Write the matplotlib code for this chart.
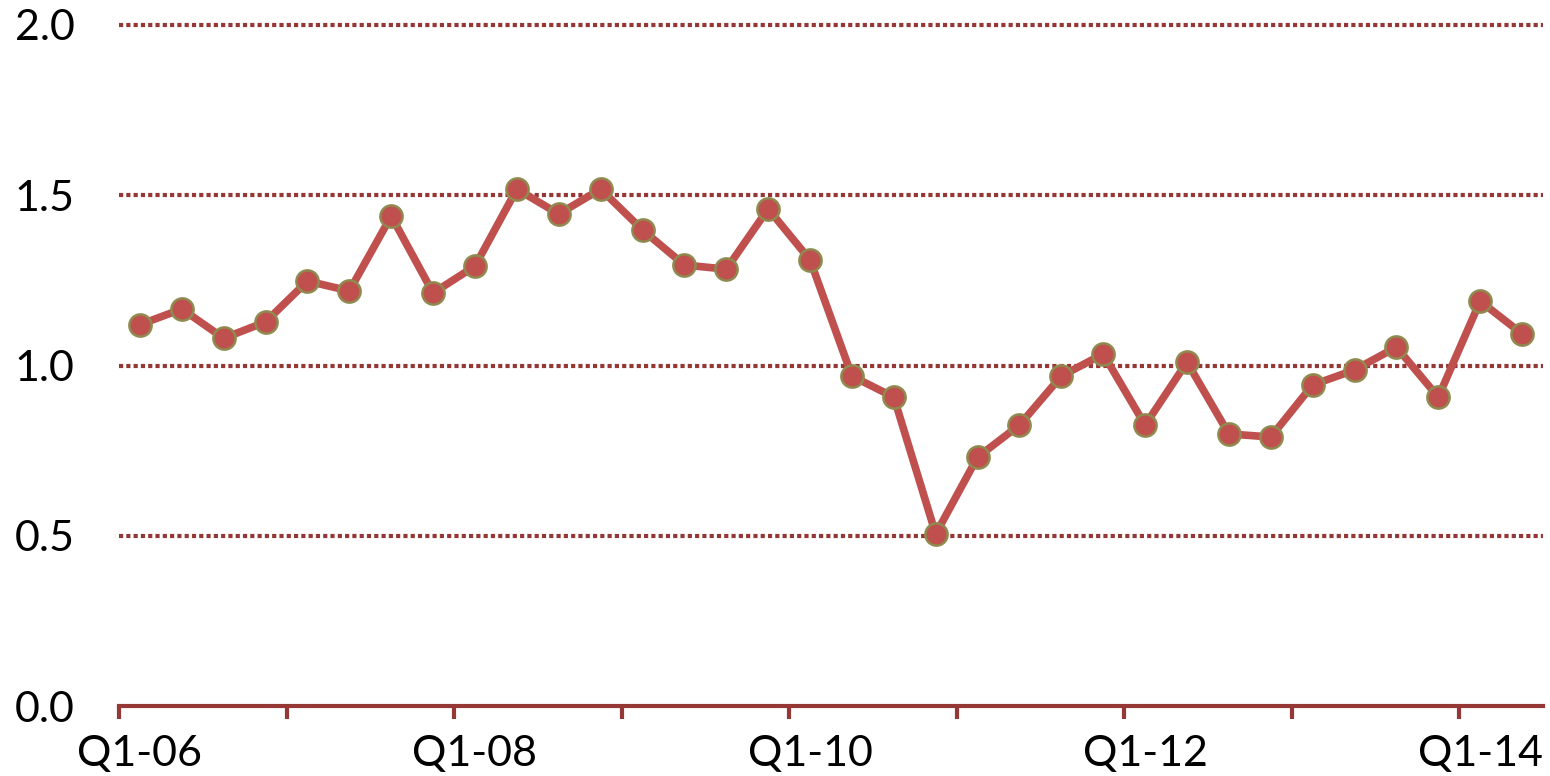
import matplotlib
matplotlib.use("Agg")
import matplotlib.pyplot as plt

# quarterly series, Q1-06 .. Q2-14
quarters = [f"Q{q}-{y:02d}" for y in range(6, 15) for q in range(1, 5)][:34]
values = [1.12, 1.166, 1.08, 1.128, 1.248, 1.219, 1.439, 1.213, 1.292, 1.518,
          1.445, 1.518, 1.398, 1.295, 1.283, 1.46, 1.31, 0.969, 0.907, 0.505,
          0.731, 0.825, 0.969, 1.034, 0.825, 1.01, 0.799, 0.79, 0.943, 0.987,
          1.054, 0.907, 1.189, 1.093]
yticks = [0.0, 0.5, 1.0, 1.5, 2.0]

LINE = "#C0504D"
EDGE = "#8F8A4F"
DARK = "#953735"

plt.rcParams["font.family"] = ["Lato", "DejaVu Sans"]

fig = plt.figure(figsize=(15.5, 7.76), dpi=100)
ax = fig.add_axes([119 / 1550, 1 - 706 / 776, (1543 - 119) / 1550, 681 / 776])

x = list(range(len(values)))
ax.plot(x, values, color=LINE, lw=5.5, marker="o", ms=16, mfc=LINE,
        mec=EDGE, mew=1.8, zorder=3, clip_on=False)

ax.set_xlim(-0.5, len(values) - 0.5)
ax.set_ylim(0, 2.0)
ax.set_yticks(yticks)
ax.set_yticklabels([f"{v:.1f}" for v in yticks])
for v in yticks[1:]:
    ax.axhline(v, color=DARK, lw=3, ls=(0, (1, 0.75)), zorder=1, clip_on=False)

# boundary ticks every 4 quarters, labels every 8 quarters
ax.set_xticks([i - 0.5 for i in range(0, len(values), 4)])
ax.set_xticklabels([])
ax.set_xticks(list(range(0, len(values), 8)), minor=True)
ax.set_xticklabels([quarters[i] for i in range(0, len(values), 8)], minor=True)
ax.tick_params(axis="x", which="major", length=9, width=3, color=DARK)
ax.tick_params(axis="x", which="minor", length=0, pad=21, labelsize=31)
ax.tick_params(axis="y", length=0, pad=32, labelsize=31)

for s in ["top", "right", "left"]:
    ax.spines[s].set_visible(False)
ax.spines["bottom"].set_color(DARK)
ax.spines["bottom"].set_linewidth(3)

fig.savefig("out.png", dpi=100)
